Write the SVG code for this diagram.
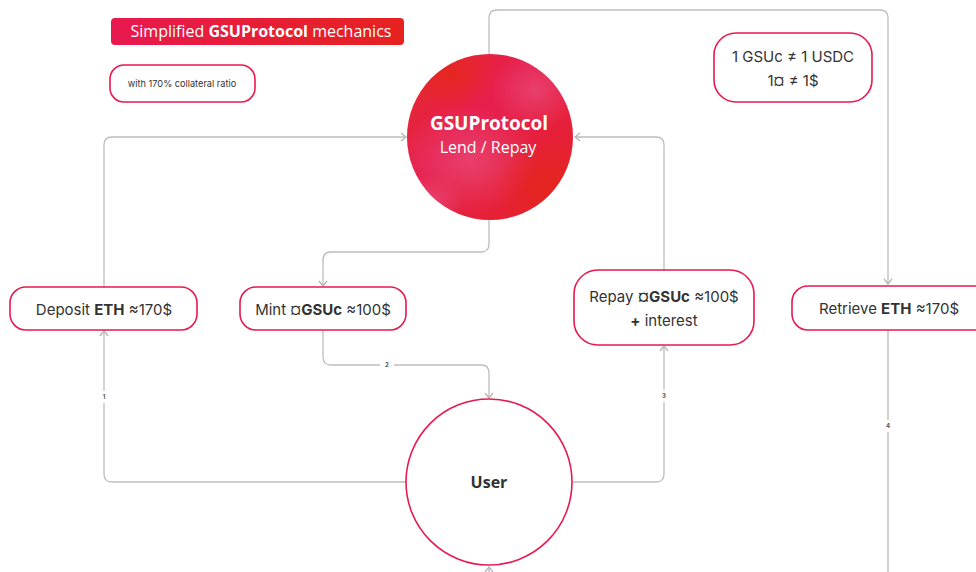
<svg xmlns="http://www.w3.org/2000/svg" width="976" height="572" viewBox="0 0 976 572">
  <defs>
    <style>
      .edge { fill: none; stroke: #bdbdbd; stroke-width: 1.3; }
      .node { fill: #ffffff; stroke: #e8194f; stroke-width: 1.6; }
      .t { font-family: Inter, "Liberation Sans", sans-serif; fill: #333333; text-anchor: middle; }
      .b { font-weight: 700; }
      .lbl { font-family: Inter, "Liberation Sans", sans-serif; font-size: 6px; fill: #555555; text-anchor: middle; font-weight: 700; }
      .w { font-family: "Open Sans", "Noto Sans", sans-serif; fill: #ffffff; text-anchor: middle; }
    </style>
    <marker id="arr" markerUnits="userSpaceOnUse" markerWidth="10" markerHeight="10" viewBox="0 0 10 10" refX="7" refY="5" orient="auto">
      <path d="M2,1 L7,5 L2,9" fill="none" stroke="#b5b5b5" stroke-width="1.3"/>
    </marker>
    <linearGradient id="titleG" x1="0" y1="0" x2="1" y2="0">
      <stop offset="0" stop-color="#e8194f"/>
      <stop offset="1" stop-color="#e6221f"/>
    </linearGradient>
    <linearGradient id="circBase" x1="0" y1="0" x2="1" y2="1">
      <stop offset="0" stop-color="#e62a2a"/>
      <stop offset="0.4" stop-color="#e61e4e"/>
      <stop offset="1" stop-color="#e52222"/>
    </linearGradient>
    <radialGradient id="pink1" cx="0.5" cy="0.5" r="0.5">
      <stop offset="0" stop-color="#ea4a78" stop-opacity="0.75"/>
      <stop offset="1" stop-color="#ea4a78" stop-opacity="0"/>
    </radialGradient>
    <radialGradient id="red1" cx="0.5" cy="0.5" r="0.5">
      <stop offset="0" stop-color="#e4261c" stop-opacity="0.85"/>
      <stop offset="1" stop-color="#e4261c" stop-opacity="0"/>
    </radialGradient>
    <clipPath id="circClip"><circle cx="490" cy="137" r="83"/></clipPath>
  </defs>

  <rect width="976" height="572" fill="#ffffff"/>

  <g id="connectors">
    <path class="edge" marker-end="url(#arr)" d="M407,482 H112 Q104,482 104,474 V331"/>
    <path class="edge" marker-end="url(#arr)" d="M104,287 V145 Q104,137 112,137 H406"/>
    <path class="edge" marker-end="url(#arr)" d="M489,220 V244 Q489,252 481,252 H331 Q323,252 323,260 V286"/>
    <path class="edge" marker-end="url(#arr)" d="M323,331 V357 Q323,365 331,365 H481 Q489,365 489,373 V398"/>
    <path class="edge" marker-end="url(#arr)" d="M573,482 H656 Q664,482 664,474 V346"/>
    <path class="edge" marker-end="url(#arr)" d="M664,270 V145 Q664,137 656,137 H575"/>
    <path class="edge" marker-end="url(#arr)" d="M489,54 V18 Q489,10 497,10 H880 Q888,10 888,18 V284"/>
    <path class="edge" style="stroke:#cccccc;stroke-width:1.8" marker-end="url(#arr)" d="M888,331 V600 H489 V567"/>
    <rect x="99" y="391" width="10" height="12" fill="#ffffff"/>
    <text class="lbl" x="104" y="399">1</text>
    <rect x="380" y="359" width="14" height="12" fill="#ffffff"/>
    <text class="lbl" x="387" y="367">2</text>
    <rect x="659" y="390" width="10" height="12" fill="#ffffff"/>
    <text class="lbl" x="664" y="398">3</text>
    <rect x="883" y="420" width="10" height="12" fill="#ffffff"/>
    <text class="lbl" x="888" y="428">4</text>
  </g>

  <g id="title">
    <rect x="111" y="18" width="293" height="27" rx="4" fill="url(#titleG)"/>
    <text class="w" x="261" y="37" font-size="16" font-weight="500">Simplified <tspan font-weight="700">GSUProtocol</tspan> mechanics</text>
  </g>

  <g id="subtitle">
    <rect class="node" x="110" y="65" width="145" height="37" rx="14"/>
    <text class="t" x="182" y="87" font-size="9.2">with 170% collateral ratio</text>
  </g>

  <g id="peg-note">
    <rect class="node" x="714" y="33" width="158" height="69" rx="22"/>
    <text class="t" x="793" y="62" font-size="15">1 GSUc ≠ 1 USDC</text>
    <text class="t" x="793" y="86" font-size="15">1¤ ≠ 1$</text>
  </g>

  <g id="gsuprotocol">
    <circle cx="490" cy="137" r="83" fill="url(#circBase)"/>
    <g clip-path="url(#circClip)">
      <ellipse cx="470" cy="160" rx="70" ry="55" fill="url(#pink1)"/>
      <ellipse cx="535" cy="90" rx="45" ry="40" fill="url(#pink1)"/>
      <ellipse cx="450" cy="75" rx="45" ry="35" fill="url(#red1)"/>
      <ellipse cx="545" cy="185" rx="50" ry="45" fill="url(#red1)"/>
      <ellipse cx="430" cy="200" rx="35" ry="25" fill="url(#pink1)"/>
    </g>
    <text class="w" x="489" y="130" font-size="19" font-weight="700">GSUProtocol</text>
    <text class="w" x="488" y="153" font-size="16">Lend / Repay</text>
  </g>

  <g id="deposit">
    <rect class="node" x="10" y="287" width="187" height="43" rx="16"/>
    <text class="t" x="104" y="315" font-size="15">Deposit <tspan class="b">ETH</tspan> ≈170$</text>
  </g>

  <g id="mint">
    <rect class="node" x="240" y="287" width="166" height="43" rx="16"/>
    <text class="t" x="323" y="315" font-size="15">Mint ¤<tspan class="b">GSUc</tspan> ≈100$</text>
  </g>

  <g id="repay">
    <rect class="node" x="574" y="270" width="180" height="75" rx="24"/>
    <text class="t" x="664" y="302" font-size="15">Repay <tspan class="b">¤GSUc</tspan> ≈100$</text>
    <text class="t" x="664" y="326" font-size="15"><tspan class="b">+</tspan> interest</text>
  </g>

  <g id="retrieve">
    <rect class="node" x="792" y="286" width="200" height="44" rx="16"/>
    <text class="t" x="889" y="314" font-size="15">Retrieve <tspan class="b">ETH</tspan> ≈170$</text>
  </g>

  <g id="user">
    <circle class="node" cx="489" cy="482" r="83"/>
    <text class="w" x="489" y="488" font-size="16" font-weight="700" style="fill:#333333">User</text>
  </g>
</svg>
